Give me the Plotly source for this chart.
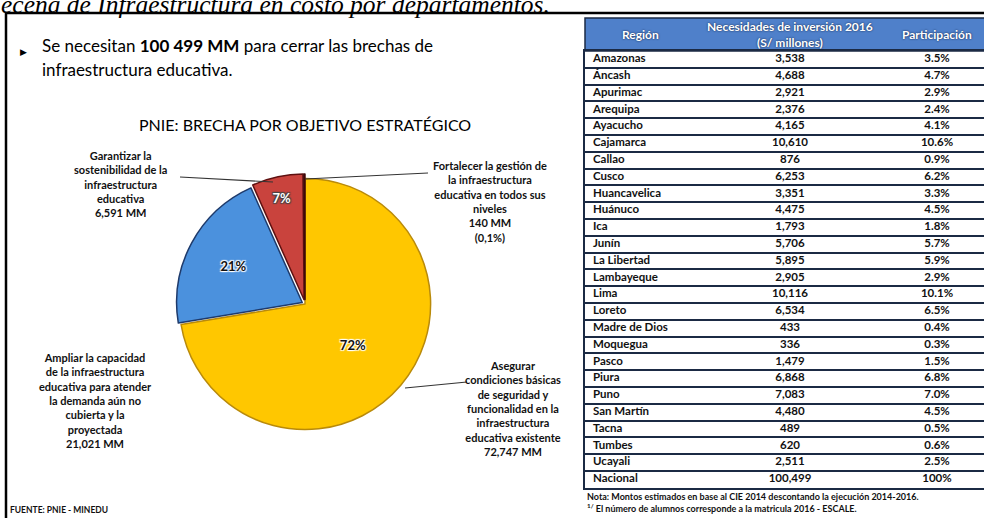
import plotly.graph_objects as go

W, H = 984, 518
FONT = "Lato, 'Open Sans', sans-serif"
NAVY = "#1B2A44"

# PNIE gap by strategic objective (MM soles)
objetivos = [
    "Asegurar condiciones básicas de seguridad y funcionalidad",
    "Ampliar la capacidad de la infraestructura educativa",
    "Garantizar la sostenibilidad de la infraestructura educativa",
    "Fortalecer la gestión de la infraestructura educativa",
]
brecha_mm = [72747, 21021, 6591, 140]
colores_pie = ["#FFC700", "#4B91DD", "#C9433D", "#7A1616"]
bordes_pie = ["#B98A0A", "#1E3A6B", "#5E1010", "#3E0808"]
texto_pie = ["#111111", "#111111", "#FFFFFF", "#111111"]

# investment needs by region
regiones = ["Amazonas", "Áncash", "Apurimac", "Arequipa", "Ayacucho", "Cajamarca",
            "Callao", "Cusco", "Huancavelica", "Huánuco", "Ica", "Junín",
            "La Libertad", "Lambayeque", "Lima", "Loreto", "Madre de Dios",
            "Moquegua", "Pasco", "Piura", "Puno", "San Martín", "Tacna",
            "Tumbes", "Ucayali", "Nacional"]
inversion = [3538, 4688, 2921, 2376, 4165, 10610, 876, 6253, 3351, 4475, 1793,
             5706, 5895, 2905, 10116, 6534, 433, 336, 1479, 6868, 7083, 4480,
             489, 620, 2511, 100499]
participacion = ["3.5%", "4.7%", "2.9%", "2.4%", "4.1%", "10.6%", "0.9%", "6.2%",
                 "3.3%", "4.5%", "1.8%", "5.7%", "5.9%", "2.9%", "10.1%", "6.5%",
                 "0.4%", "0.3%", "1.5%", "6.8%", "7.0%", "4.5%", "0.5%", "0.6%",
                 "2.5%", "100%"]
encabezados = ["Región", "Necesidades de inversión 2016<br>(S/ millones)", "Participación"]


def px(x):
    return x / W


def py(y):
    return 1 - y / H


fig = go.Figure()

# pie
cx, cy, r = 305, 304, 130
fig.add_trace(go.Pie(
    labels=objetivos, values=brecha_mm, sort=False, direction="clockwise", rotation=0,
    pull=[0, 0.025, 0.035, 0.035],
    marker=dict(colors=colores_pie, line=dict(color=bordes_pie, width=1.5)),
    texttemplate=["%{percent:.0%}"] * 3 + [""],
    textposition="inside", insidetextorientation="horizontal",
    textfont=dict(family=FONT, size=13, weight="bold", color=texto_pie, shadow="auto"),
    domain=dict(x=[px(cx - r), px(cx + r)], y=[py(cy + r), py(cy - r)]),
    showlegend=False, hoverinfo="label+value+percent",
))

# table body drawn on a category axis (one row per region)
tab_left, tab_top, head_h, row_h = 585, 18, 33, 16.8
body_top = tab_top + head_h
tab_bottom = body_top + row_h * len(regiones)
col_x = [593, 790, 937]  # region (left), value (center), share (center)
cell_font = dict(family=FONT, size=11.5, color="#111111", weight="bold")

fig.add_trace(go.Scatter(x=[col_x[0]] * len(regiones), y=regiones, text=regiones,
                         mode="text", textposition="middle right", textfont=cell_font,
                         cliponaxis=False, hoverinfo="skip"))
fig.add_trace(go.Scatter(x=[col_x[1]] * len(regiones), y=regiones, text=[f"{v:,}" for v in inversion],
                         mode="text", textposition="middle center", textfont=cell_font,
                         cliponaxis=False, hoverinfo="skip"))
fig.add_trace(go.Scatter(x=[col_x[2]] * len(regiones), y=regiones, text=participacion,
                         mode="text", textposition="middle center", textfont=cell_font,
                         cliponaxis=False, hoverinfo="skip"))

fig.update_xaxes(domain=[px(tab_left), 1], range=[tab_left, W], showgrid=False, zeroline=False,
                 showticklabels=False, ticks="", showline=True, mirror=True,
                 linecolor=NAVY, linewidth=1.5)
fig.update_yaxes(domain=[py(tab_bottom), py(body_top)], type="category", categoryorder="array",
                 categoryarray=regiones, range=[len(regiones) - 0.5, -0.5],
                 tickson="boundaries", showgrid=True, gridcolor=NAVY, gridwidth=1.5,
                 showticklabels=False, ticks="", zeroline=False,
                 showline=True, linecolor=NAVY, linewidth=1.5)


def line(x0, y0, x1, y1, color, width):
    return dict(type="line", xref="paper", yref="paper", x0=px(x0), x1=px(x1), y0=py(y0), y1=py(y1),
                line=dict(color=color, width=width))


shapes = [
    # slide frame
    line(6, 13, 6, 520, "black", 2.5),
    line(5, 13, 990, 13, "black", 2.5),
    # table header band
    dict(type="rect", xref="paper", yref="paper", x0=px(tab_left), x1=px(990), y0=py(body_top), y1=py(tab_top),
         fillcolor="#4F80CA", line=dict(color=NAVY, width=1.5), layer="below"),
]

# leader lines
for (x0, y0), (x1, y1) in [[(180, 177), (273, 182)], [(305, 179), (428, 173)], [(405, 388), (467, 382)]]:
    shapes.append(line(x0, y0, x1, y1, "#333333", 1.2))


def note(x, y, text, size, xanchor="center", bold=False, color="#111111",
         family=FONT, italic=False, shadow=None):
    f = dict(family=family, size=size, color=color, weight="bold" if bold else "normal",
             style="italic" if italic else "normal")
    if shadow:
        f["shadow"] = shadow
    fig.add_annotation(x=px(x), y=py(y), xref="paper", yref="paper", text=text,
                       showarrow=False, xanchor=xanchor, yanchor="middle", align="center", font=f)


note(-1, 5, "ecena de Infraestructura en costo por departamentos.", 25.5, xanchor="left",
     family="'Liberation Serif', serif", italic=True, color="black")
note(18, 52, "▶", 8.5, xanchor="left", color="black")
note(40, 45, "Se necesitan <b>100 499 MM</b> para cerrar las brechas de", 17, xanchor="left", color="black")
note(40, 70, "infraestructura educativa.", 17, xanchor="left", color="black")
note(305, 125, "PNIE: BRECHA POR OBJETIVO ESTRATÉGICO", 16, color="black")

note(120, 184, "Garantizar la<br>sostenibilidad de la<br>infraestructura<br>educativa<br>6,591 MM", 11, bold=True)
note(490, 201, "Fortalecer la gestión de<br>la infraestructura<br>educativa en todos sus<br>niveles<br>140 MM<br>(0,1%)", 11, bold=True)
note(95, 400, "Ampliar la capacidad<br>de la infraestructura<br>educativa para atender<br>la demanda aún no<br>cubierta y la<br>proyectada<br>21,021 MM", 11, bold=True)
note(513, 408, "Asegurar<br>condiciones básicas<br>de seguridad y<br>funcionalidad en la<br>infraestructura<br>educativa existente<br>72,747 MM", 11, bold=True)
note(8, 510, "FUENTE: PNIE - MINEDU", 8.5, xanchor="left", bold=True)

# table header and notes
for x, h in zip([640, col_x[1], col_x[2]], encabezados):
    note(x, body_top - head_h / 2, h, 12, bold=True, color="white", shadow="0px 0px 2px #0B1A3A")
note(tab_left, 496, "Nota: Montos estimados en base al CIE 2014 descontando la ejecución 2014-2016.", 9, xanchor="left", bold=True)
note(tab_left, 508, "<sup>1/</sup> El número de alumnos corresponde a la matricula 2016 - ESCALE.", 9, xanchor="left", bold=True)

fig.update_layout(
    width=W, height=H, margin=dict(l=0, r=0, t=0, b=0),
    paper_bgcolor="white", plot_bgcolor="white",
    shapes=shapes, showlegend=False,
)

fig.write_html("out.html", config={"displayModeBar": False},
               post_script="document.body.style.margin='0';")
